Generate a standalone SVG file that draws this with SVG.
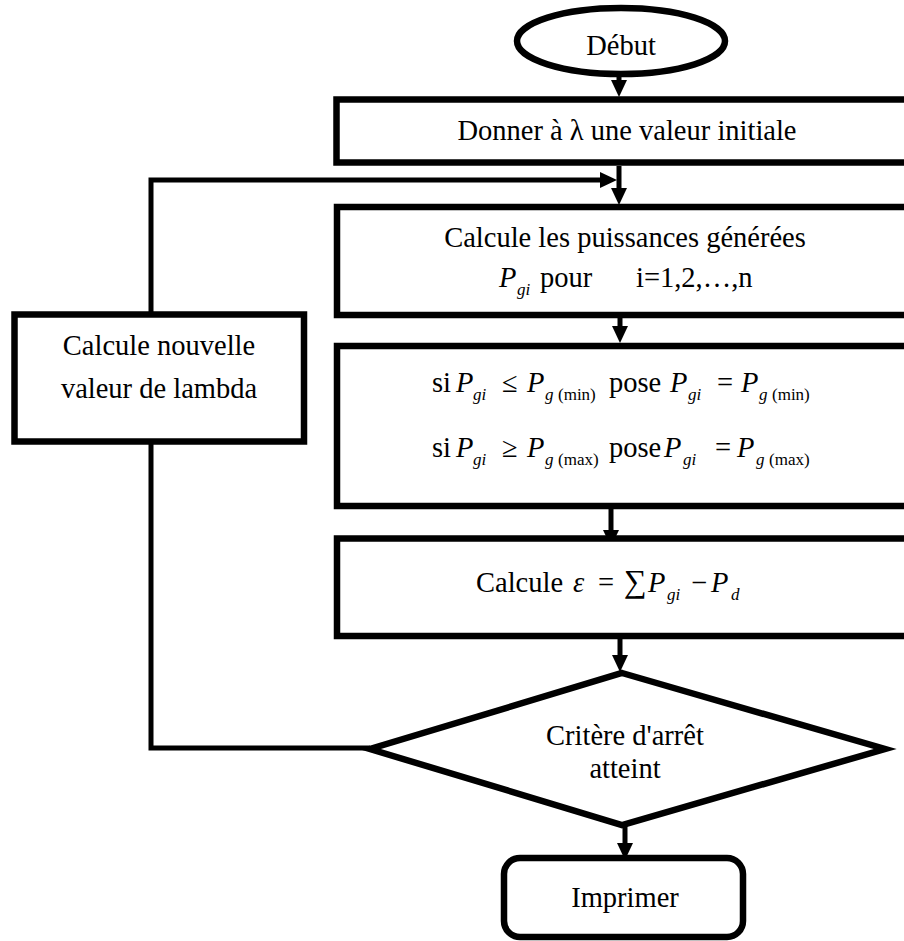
<svg xmlns="http://www.w3.org/2000/svg" width="904" height="941" viewBox="0 0 904 941">
<style>
.shape{fill:#fff;stroke:#000;stroke-width:6.5}
.conn{fill:none;stroke:#000;stroke-width:5}
text{font-family:"Liberation Serif","Times New Roman",serif;font-size:28.5px;fill:#000}
.c{text-anchor:middle}
.it{font-style:italic}
.sub{font-size:17px}
.big{font-size:32px}
</style>
<defs>
<marker id="ah" viewBox="0 0 17 16" markerWidth="17" markerHeight="16" refX="0" refY="8" orient="auto" markerUnits="userSpaceOnUse">
<path d="M0,0 L17,8 L0,16 z" fill="#000"/>
</marker>
</defs>
<rect width="904" height="941" fill="#fff"/>
<g id="connectors">
<line class="conn" x1="619" y1="72" x2="619" y2="80" marker-end="url(#ah)"/>
<line class="conn" x1="619" y1="166" x2="619" y2="188" marker-end="url(#ah)"/>
<polyline class="conn" points="151,314 151,180 600,180" marker-end="url(#ah)"/>
<line class="conn" x1="620" y1="318" x2="620" y2="326" marker-end="url(#ah)"/>
<line class="conn" x1="611" y1="509" x2="611" y2="530" marker-end="url(#ah)"/>
<line class="conn" x1="620" y1="639" x2="620" y2="655" marker-end="url(#ah)"/>
<line class="conn" x1="625" y1="825" x2="625" y2="843" marker-end="url(#ah)"/>
<polyline class="conn" points="151,441 151,748 370,748"/>
</g>
<g id="debut">
<ellipse class="shape" cx="621" cy="41" rx="104" ry="33"/>
<text class="c" x="621" y="55">Début</text>
</g>
<g id="init">
<rect class="shape" x="336.5" y="99.5" width="580" height="63"/>
<text class="c" x="627" y="140">Donner à λ une valeur initiale</text>
</g>
<g id="calc-p">
<rect class="shape" x="337" y="207" width="580" height="108"/>
<text class="c" x="625" y="247">Calcule les puissances générées</text>
<text y="287"><tspan class="it" x="499">P</tspan><tspan class="it sub" x="517" y="295">gi</tspan><tspan x="540" y="287">pour</tspan><tspan x="636">i=1,2,…,n</tspan></text>
</g>
<g id="limits">
<rect class="shape" x="337" y="346" width="580" height="160"/>
<text y="392"><tspan x="432">si</tspan><tspan class="it" x="456">P</tspan><tspan class="it sub" x="473" y="400">gi</tspan><tspan x="502" y="392">≤</tspan><tspan class="it" x="527">P</tspan><tspan class="it sub" x="545" y="400">g</tspan><tspan class="sub" x="558">(min)</tspan><tspan x="609" y="392">pose</tspan><tspan class="it" x="670">P</tspan><tspan class="it sub" x="688" y="400">gi</tspan><tspan x="717" y="392">=</tspan><tspan class="it" x="741">P</tspan><tspan class="it sub" x="759" y="400">g</tspan><tspan class="sub" x="772">(min)</tspan></text>
<text y="457"><tspan x="432">si</tspan><tspan class="it" x="456">P</tspan><tspan class="it sub" x="473" y="465">gi</tspan><tspan x="502" y="457">≥</tspan><tspan class="it" x="527">P</tspan><tspan class="it sub" x="545" y="465">g</tspan><tspan class="sub" x="558">(max)</tspan><tspan x="609" y="457">pose</tspan><tspan class="it" x="664">P</tspan><tspan class="it sub" x="683" y="465">gi</tspan><tspan x="715" y="457">=</tspan><tspan class="it" x="737">P</tspan><tspan class="it sub" x="756" y="465">g</tspan><tspan class="sub" x="769">(max)</tspan></text>
</g>
<g id="calc-eps">
<rect class="shape" x="337" y="538.5" width="580" height="97.5"/>
<text y="592"><tspan x="476">Calcule</tspan><tspan class="it" x="573">ε</tspan><tspan x="598">=</tspan><tspan class="big" x="624">∑</tspan><tspan class="it" x="648">P</tspan><tspan class="it sub" x="667" y="600">gi</tspan><tspan x="691" y="592">−</tspan><tspan class="it" x="711">P</tspan><tspan class="it sub" x="731" y="600">d</tspan></text>
</g>
<g id="new-lambda">
<rect class="shape" x="14.5" y="314.5" width="289.5" height="127"/>
<text class="c" x="159" y="355">Calcule nouvelle</text>
<text class="c" x="159" y="398">valeur de lambda</text>
</g>
<g id="critere">
<polygon class="shape" points="622,673 885,749 622,825 370,749"/>
<text class="c" x="625" y="745">Critère d'arrêt</text>
<text class="c" x="625" y="778">atteint</text>
</g>
<g id="imprimer">
<rect class="shape" x="504" y="858" width="239" height="79" rx="16"/>
<text class="c" x="625" y="907">Imprimer</text>
</g>
</svg>
